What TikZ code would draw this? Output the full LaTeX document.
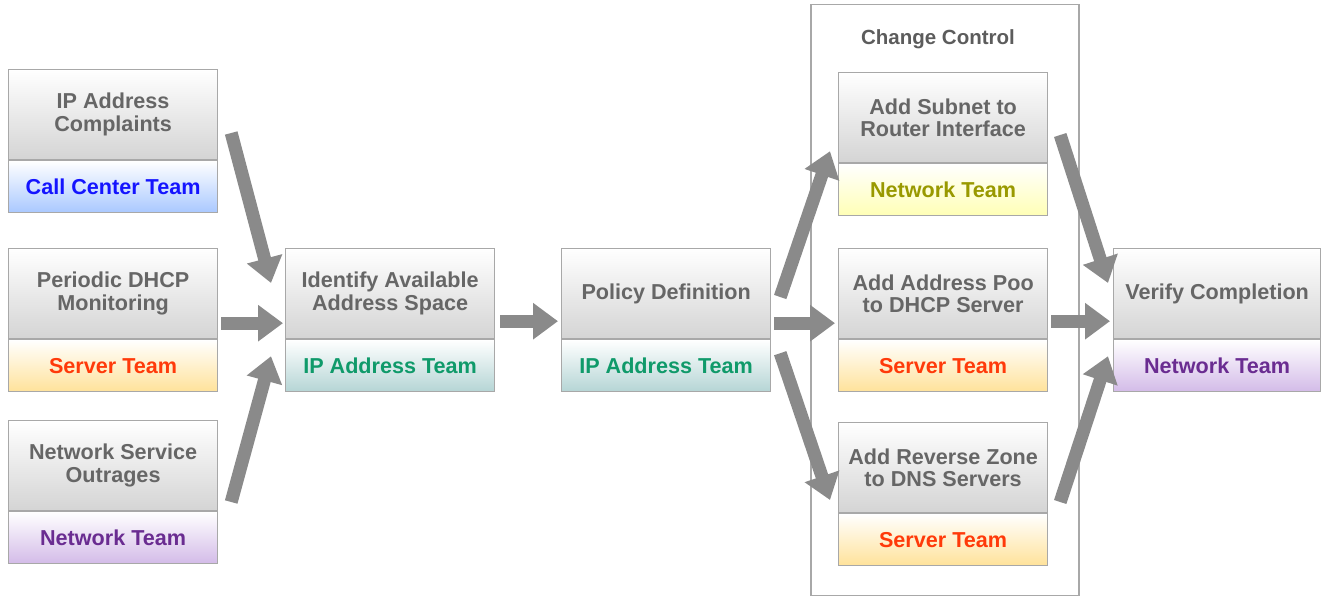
\documentclass[tikz,border=0pt]{standalone}
\usepackage{fontspec}
\setmainfont{Liberation Sans}
\usetikzlibrary{arrows.meta,calc}

\definecolor{textgray}{HTML}{666666}
\definecolor{boxline}{HTML}{A8A8A8}
\definecolor{topgray}{HTML}{D4D4D4}
\definecolor{arrowgray}{HTML}{8A8A8A}
\definecolor{callblue}{HTML}{1414FF}
\definecolor{callbg}{HTML}{A9C8FF}
\definecolor{serverred}{HTML}{FF3A0A}
\definecolor{serverbg}{HTML}{FFE29A}
\definecolor{netpurple}{HTML}{6A2C91}
\definecolor{netbg}{HTML}{D3BBE8}
\definecolor{ipgreen}{HTML}{0F9A6A}
\definecolor{ipbg}{HTML}{B5D5D5}
\definecolor{netolive}{HTML}{999900}
\definecolor{olivebg}{HTML}{FFFFB5}

\begin{document}
\begin{tikzpicture}[x=1pt,y=-1pt,
  label font/.style={font=\bfseries\fontsize{21.6}{22.5}\selectfont},
  task/.style={label font, draw=boxline, line width=1.2pt, anchor=north west,
    minimum width=#1, minimum height=90pt, inner sep=0pt, align=center,
    top color=white, bottom color=topgray, text=textgray},
  task/.default=209pt,
  team/.style 2 args={label font, draw=boxline, line width=1.2pt, anchor=north,
    minimum width=#2, minimum height=52pt, inner sep=0pt,
    top color=white, bottom color=#1},
  flow/.style={draw=arrowgray, line width=13pt,
    -{Triangle[length=25pt,width=35pt]}},
  frame/.style={draw=boxline, line width=1.5pt, anchor=north west,
    minimum width=268pt, minimum height=591pt, inner sep=0pt}
]
\useasboundingbox (0,0) rectangle (1321,596);

% Change Control container
\node[frame] (cc) at (810,4) {};
\node[font=\bfseries\fontsize{20.5}{22}\selectfont, text=textgray!90!black] (cctitle) at (938,39) {Change Control};

% Trigger sources
\node[task] (b1) at (8,69) {IP Address\\Complaints};
\node[team={callbg}{209pt}, text=callblue] (b1t) at (b1.south) {Call Center Team};

\node[task] (b2) at (8,248) {Periodic DHCP\\Monitoring};
\node[team={serverbg}{209pt}, text=serverred] (b2t) at (b2.south) {Server Team};

\node[task] (b3) at (8,420) {Network Service\\Outrages};
\node[team={netbg}{209pt}, text=netpurple] (b3t) at (b3.south) {Network Team};

% Planning steps
\node[task] (id) at (285,248) {Identify Available\\Address Space};
\node[team={ipbg}{209pt}, text=ipgreen] (idt) at (id.south) {IP Address Team};

\node[task] (pol) at (561,248) {Policy Definition};
\node[team={ipbg}{209pt}, text=ipgreen] (polt) at (pol.south) {IP Address Team};

% Change control tasks
\node[task] (sub) at (838,72) {Add Subnet to\\Router Interface};
\node[team={olivebg}{209pt}, text=netolive] (subt) at (sub.south) {Network Team};

\node[task] (pool) at (838,248) {Add Address Poo\\to DHCP Server};
\node[team={serverbg}{209pt}, text=serverred] (poolt) at (pool.south) {Server Team};

\node[task] (rev) at (838,422) {Add Reverse Zone\\to DNS Servers};
\node[team={serverbg}{209pt}, text=serverred] (revt) at (rev.south) {Server Team};

% Final check
\node[task=207pt] (ver) at (1113,248) {Verify Completion};
\node[team={netbg}{207pt}, text=netpurple] (vert) at (ver.south) {Network Team};

% Flow arrows
\draw[flow] ($(b1.north east)+(13,64)$) -- ($(id.north west)+(-14,35)$);
\draw[flow] ($(b2.south east)+(3,-16)$) -- ($(id.south west)+(-2,-16)$);
\draw[flow] ($(b3.north east)+(13,82)$) -- ($(id.south west)+(-14,17)$);

\draw[flow] ($(id.south east)+(5,-18)$) -- ($(pol.south west)+(-3,-18)$);

\draw[flow] ($(pol.north east)+(9,49)$) -- ($(sub.south west)+(-8,-12)$);
\draw[flow] ($(pol.south east)+(3,-16)$) -- ($(pool.south west)+(-3,-16)$);
\draw[flow] ($(pol.south east)+(9,14)$) -- ($(rev.north west)+(-8,78)$);

\draw[flow] ($(sub.north east)+(12,63)$) -- ($(ver.north west)+(-5,35)$);
\draw[flow] ($(pool.south east)+(3,-18)$) -- ($(ver.south west)+(-3,-18)$);
\draw[flow] ($(rev.north east)+(12,80)$) -- ($(ver.south west)+(-5,17)$);
\end{tikzpicture}
\end{document}
